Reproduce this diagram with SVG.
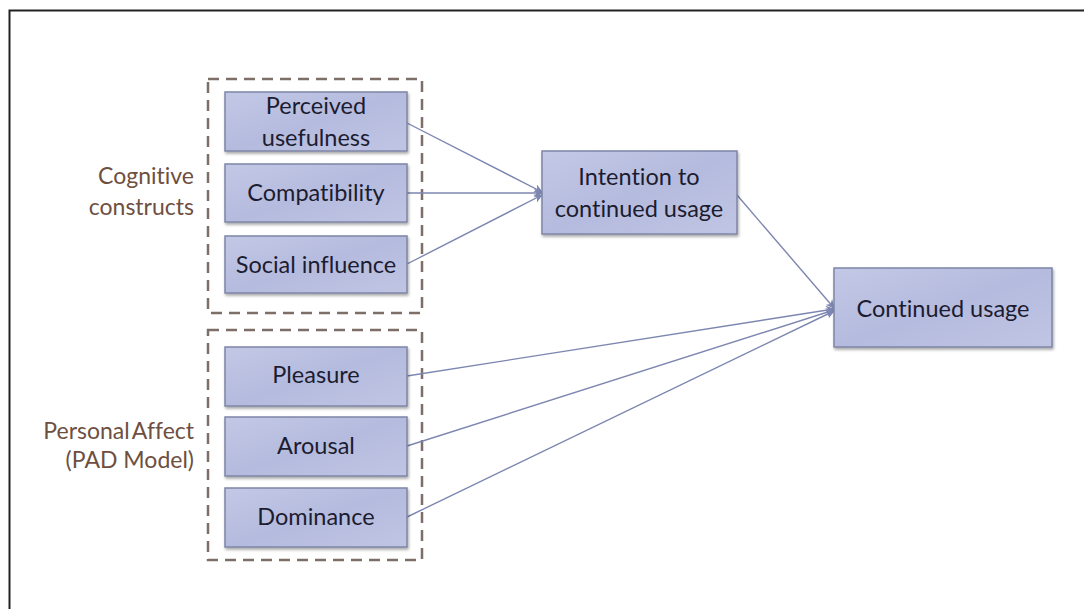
<svg xmlns="http://www.w3.org/2000/svg" width="1084" height="609" viewBox="0 0 1084 609">
  <defs>
    <linearGradient id="boxFill" x1="0" y1="0" x2="1" y2="1">
      <stop offset="0" stop-color="#c3c8e6"/>
      <stop offset="0.5" stop-color="#b5bbde"/>
      <stop offset="1" stop-color="#c0c5e4"/>
    </linearGradient>
    <filter id="shadow" x="-10%" y="-10%" width="125%" height="130%">
      <feGaussianBlur in="SourceAlpha" stdDeviation="1.5"/>
      <feOffset dx="1" dy="2" result="b"/>
      <feComponentTransfer><feFuncA type="linear" slope="0.35"/></feComponentTransfer>
      <feMerge><feMergeNode/><feMergeNode in="SourceGraphic"/></feMerge>
    </filter>
    <marker id="arrow" viewBox="0 0 10 10" refX="9" refY="5" markerWidth="9" markerHeight="9" markerUnits="userSpaceOnUse" orient="auto">
      <path d="M0,0 L10,5 L0,10 L3,5 Z" fill="#7d86b0"/>
    </marker>
    <style>
      text { font-variant-ligatures: none; font-feature-settings: "liga" 0; }
      .box { fill: url(#boxFill); stroke: #7e85a6; stroke-width: 1.5; filter: url(#shadow); }
      .lbl { font-family: Lato, "Open Sans", sans-serif; font-size: 23.5px; fill: #1c1c30; text-anchor: middle; }
      .grp { font-family: Lato, "Open Sans", sans-serif; font-size: 23px; fill: #6e4f40; text-anchor: end; }
      .dash { fill: none; stroke: #7d6e68; stroke-width: 2.5; stroke-dasharray: 11 7; }
      .edge { fill: none; stroke: #7d86b0; stroke-width: 1.4; marker-end: url(#arrow); }
    </style>
  </defs>

  <rect x="0" y="0" width="1084" height="609" fill="#ffffff"/>
  <!-- outer frame (top and left edges visible) -->
  <rect x="9.5" y="10.5" width="1200" height="700" fill="none" stroke="#222222" stroke-width="2"/>

  <!-- grouping frames -->
  <g id="group-cognitive">
    <rect class="dash" x="208" y="79" width="214" height="234"/>
    <text class="grp" x="194" y="184">Cognitive</text>
    <text class="grp" x="194" y="215">constructs</text>
  </g>
  <g id="group-affect">
    <rect class="dash" x="208" y="330" width="214" height="230"/>
    <text class="grp" x="194" y="439" word-spacing="-3">Personal Affect</text>
    <text class="grp" x="194" y="468">(PAD Model)</text>
  </g>

  <!-- connectors -->
  <g id="connectors">
    <line class="edge" x1="407" y1="123" x2="542" y2="192"/>
    <line class="edge" x1="407" y1="193" x2="542" y2="193"/>
    <line class="edge" x1="407" y1="264" x2="542" y2="195"/>
    <line class="edge" x1="737" y1="195" x2="834" y2="308"/>
    <line class="edge" x1="407" y1="376" x2="834" y2="309"/>
    <line class="edge" x1="407" y1="446" x2="834" y2="310"/>
    <line class="edge" x1="407" y1="517" x2="834" y2="311"/>
  </g>

  <!-- nodes -->
  <g id="node-perceived-usefulness">
    <rect class="box" x="225" y="92" width="182" height="59"/>
    <text class="lbl" x="316" y="114">Perceived</text>
    <text class="lbl" x="316" y="146">usefulness</text>
  </g>
  <g id="node-compatibility">
    <rect class="box" x="225" y="164" width="182" height="58"/>
    <text class="lbl" x="316" y="201">Compatibility</text>
  </g>
  <g id="node-social-influence">
    <rect class="box" x="225" y="236" width="182" height="57"/>
    <text class="lbl" x="316" y="273">Social influence</text>
  </g>
  <g id="node-pleasure">
    <rect class="box" x="225" y="347" width="182" height="59"/>
    <text class="lbl" x="316" y="383">Pleasure</text>
  </g>
  <g id="node-arousal">
    <rect class="box" x="225" y="417" width="182" height="59"/>
    <text class="lbl" x="316" y="454">Arousal</text>
  </g>
  <g id="node-dominance">
    <rect class="box" x="225" y="488" width="182" height="59"/>
    <text class="lbl" x="316" y="525">Dominance</text>
  </g>
  <g id="node-intention">
    <rect class="box" x="542" y="151" width="195" height="83"/>
    <text class="lbl" x="639" y="185">Intention to</text>
    <text class="lbl" x="639" y="217">continued usage</text>
  </g>
  <g id="node-continued-usage">
    <rect class="box" x="834" y="268" width="218" height="79"/>
    <text class="lbl" x="943" y="317">Continued usage</text>
  </g>
</svg>
